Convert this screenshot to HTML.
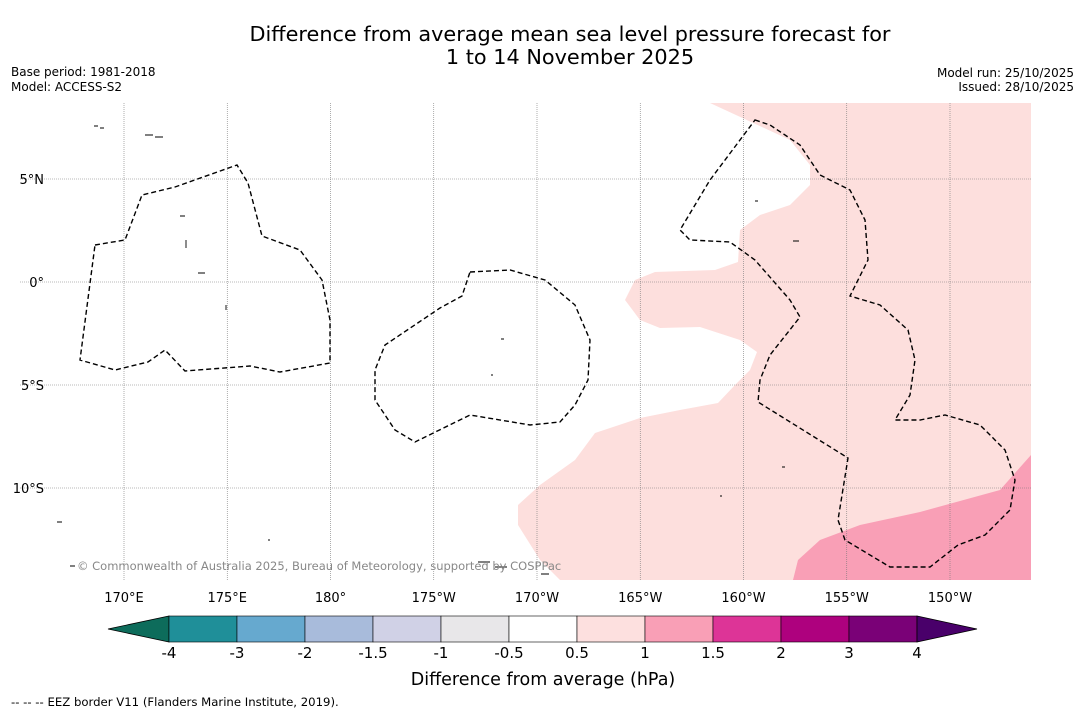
<!DOCTYPE html>
<html><head><meta charset="utf-8">
<style>
html,body{margin:0;padding:0;background:#fff;}
body{width:1085px;height:713px;overflow:hidden;font-family:"Liberation Sans","DejaVu Sans",sans-serif;}
svg text{font-family:"DejaVu Sans","Liberation Sans",sans-serif;}
</style></head>
<body>
<svg id="chart" width="1085" height="713" xmlns="http://www.w3.org/2000/svg">
  <text x="570" y="41" font-size="20.8" text-anchor="middle" fill="#000">Difference from average mean sea level pressure forecast for</text>
  <text x="570" y="64" font-size="20.8" text-anchor="middle" fill="#000">1 to 14 November 2025</text>
  <text x="11" y="76" font-size="12">Base period: 1981-2018</text>
  <text x="11" y="91" font-size="12">Model: ACCESS-S2</text>
  <text x="1074" y="77" font-size="12" text-anchor="end">Model run: 25/10/2025</text>
  <text x="1074" y="91" font-size="12" text-anchor="end">Issued: 28/10/2025</text>

  <g id="map">
    <defs><clipPath id="mclip"><rect x="20" y="103" width="1011" height="477"/></clipPath></defs>
    <g clip-path="url(#mclip)">
      <path fill="#fddfdd" d="M710,103 L790,140 L810,165 L810,185 L790,205 L760,215 L740,230 L738,262 L715,270 L655,272 L635,280 L625,300 L640,320 L660,328 L700,327 L740,340 L757,352 L750,370 L735,385 L718,403 L680,410 L640,418 L595,433 L575,460 L540,485 L518,505 L518,525 L540,560 L560,580 L1031,580 L1031,103 Z"/>
      <path fill="#f99fb6" d="M1031,455 L1000,490 L920,512 L860,525 L820,540 L798,560 L793,580 L1031,580 Z"/>
      <g id="grid" stroke="#777" stroke-width="0.6" stroke-dasharray="1,1"></g>
      <g fill="none" stroke="#000" stroke-width="1.4" stroke-dasharray="5,3">
        <path d="M95,245 L125,240 L142,195 L175,187 L237,165 L248,183 L262,236 L300,250 L322,280 L330,320 L330,363 L280,372 L250,366 L185,371 L165,350 L148,362 L115,370 L80,360 Z"/>
        <path d="M470,272 L510,270 L545,280 L575,305 L590,340 L588,380 L575,405 L560,422 L530,425 L470,415 L415,442 L395,430 L375,400 L375,370 L385,345 L440,308 L462,296 Z"/>
        <path d="M755,120 L770,125 L800,145 L820,175 L850,190 L865,220 L868,260 L850,296 L880,305 L908,330 L915,360 L910,395 L895,420 L920,420 L945,415 L980,425 L1005,450 L1015,480 L1010,510 L985,535 L958,545 L930,567 L890,567 L845,540 L838,520 L848,458 L758,402 L760,380 L770,355 L800,317 L790,300 L755,260 L730,242 L690,240 L680,230 L710,180 Z"/>
      </g>
      <g fill="none" stroke="#000" stroke-width="0.9">
        <path d="M145,135 h8 M155,137 h8 M180,216 h5 M186,240 v8 M198,273 h7 M226,305 v5 M501,339 h3 M491,375 h2 M755,201 h3 M793,241 h6 M782,467 h3 M720,496 h2 M57,522 h5 M478,562 h12 M495,567 h12 M541,574 h8 M70,566 h5 M268,540 h2 M94,126 h4 M100,128 h4"/>
      </g>
      <text x="77" y="570" font-size="11.5" fill="#888">© Commonwealth of Australia 2025, Bureau of Meteorology, supported by COSPPac</text>
    </g>
    <g id="axes"></g>
  </g>

  <g id="colorbar"></g>
  <text x="543" y="685" font-size="17.5" text-anchor="middle">Difference from average (hPa)</text>
  <text x="11" y="706" font-size="11.7">--  --  -- EEZ border V11 (Flanders Marine Institute, 2019).</text>
</svg>
<script>
const lonValues = [170, 175, 180, -175, -170, -165, -160, -155, -150];
const lonLabels = ["170°E", "175°E", "180°", "175°W", "170°W", "165°W", "160°W", "155°W", "150°W"];
const latValues = [5, 0, -5, -10];
const latLabels = ["5°N", "0°", "5°S", "10°S"];
const cbarBounds = ["-4", "-3", "-2", "-1.5", "-1", "-0.5", "0.5", "1", "1.5", "2", "3", "4"];
const cbarColors = ["#1f8f99", "#66a9cf", "#a8bbdb", "#d0d1e6", "#e8e7e9", "#ffffff", "#fde0df", "#f99fb6", "#dd3497", "#ae017e", "#7a0177"];
const cbarLow = "#0d6c5b";
const cbarHigh = "#49006a";

const NS = "http://www.w3.org/2000/svg";
function lonX(l){ const e = l < 0 ? l + 360 : l; return 124 + (e - 170) * 20.65; }
function latY(l){ return 282 - l * 20.6; }
function mk(tag, attrs, parent){ const el = document.createElementNS(NS, tag); for (const k in attrs) el.setAttribute(k, attrs[k]); parent.appendChild(el); return el; }

const grid = document.getElementById('grid');
const axes = document.getElementById('axes');
lonValues.forEach((v, i) => {
  const x = lonX(v);
  const ln = mk('line', {x1: x, x2: x, y1: 103, y2: 580}, grid);
  
  
  const t = mk('text', {x: x, y: 602, 'font-size': 13, 'text-anchor': 'middle'}, axes);
  t.textContent = lonLabels[i];
  
  
});
latValues.forEach((v, i) => {
  const y = latY(v);
  const ln = mk('line', {x1: 20, x2: 1031, y1: y, y2: y}, grid);
  
  
  const t = mk('text', {x: 44, y: y + 5, 'font-size': 13, 'text-anchor': 'end'}, axes);
  t.textContent = latLabels[i];
  
  
});

const cb = document.getElementById('colorbar');
const cx0 = 169, cw = 68, cy0 = 616, ch = 26;
const lowTri = mk('polygon', {points: `108,${cy0+ch/2} ${cx0},${cy0} ${cx0},${cy0+ch}`, fill: cbarLow, stroke: '#000', 'stroke-width': 0.8}, cb);


cbarColors.forEach((c, i) => {
  const r = mk('rect', {x: cx0 + i * cw, y: cy0, width: cw, height: ch, fill: c, stroke: '#000', 'stroke-width': 0.6}, cb);
  
  
});
const xe = cx0 + cbarColors.length * cw;
const hiTri = mk('polygon', {points: `${xe},${cy0} ${xe+60},${cy0+ch/2} ${xe},${cy0+ch}`, fill: cbarHigh, stroke: '#000', 'stroke-width': 0.8}, cb);


cbarBounds.forEach((b, i) => {
  const t = mk('text', {x: cx0 + i * cw, y: 658, 'font-size': 15, 'text-anchor': 'middle'}, cb);
  t.textContent = b;
  
  
});
</script>
</body></html>
